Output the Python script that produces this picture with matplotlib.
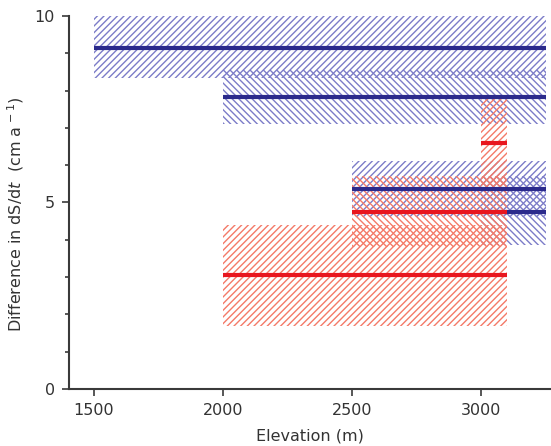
import matplotlib.pyplot as plt
import numpy as np

# blue series: elevation band start/end, value and uncertainty range
blue_start = [1500, 2000, 2500, 3000]
blue_end = [3250, 3250, 3250, 3250]
blue_val = [9.15, 7.83, 5.36, 4.75]
blue_lo = [8.35, 7.10, 4.60, 3.85]
blue_hi = [10.0, 8.55, 6.10, 5.70]
blue_hatch = ['/////', '\\\\\\\\\\', '/////', '\\\\\\\\\\']

# red series
red_start = [2000, 2500, 3000]
red_end = [3100, 3100, 3100]
red_val = [3.05, 4.75, 6.60]
red_lo = [1.70, 3.80, 5.40]
red_hi = [4.40, 5.70, 7.80]
red_hatch = ['/////', '\\\\\\\\\\', '/////']

x_ticks = [1500, 2000, 2500, 3000]
y_ticks = [0, 5, 10]

BLUE_LINE = '#2b2a8c'
BLUE_HATCH = '#7c7cc8'
RED_LINE = '#e8161e'
RED_HATCH = '#f47a68'
AXIS = '#3a3a3a'
TEXT = '#333333'

plt.rcParams['font.family'] = 'DejaVu Sans'
plt.rcParams['hatch.linewidth'] = 1.0

fig = plt.figure(figsize=(5.51, 4.46), dpi=100)
ax = fig.add_axes([0.125, 0.128, 0.875, 0.836])

# uncertainty bands
for s, e, lo, hi, h in zip(blue_start, blue_end, blue_lo, blue_hi, blue_hatch):
    ax.bar(s, hi - lo, width=e - s, bottom=lo, align='edge', fill=False,
           hatch=h, edgecolor=BLUE_HATCH, linewidth=0)
for s, e, lo, hi, h in zip(red_start, red_end, red_lo, red_hi, red_hatch):
    ax.bar(s, hi - lo, width=e - s, bottom=lo, align='edge', fill=False,
           hatch=h, edgecolor=RED_HATCH, linewidth=0)

# central values
for s, e, v in zip(blue_start, blue_end, blue_val):
    ax.plot([s, e], [v, v], color=BLUE_LINE, lw=3, solid_capstyle='butt')
for s, e, v in zip(red_start, red_end, red_val):
    ax.plot([s, e], [v, v], color=RED_LINE, lw=3, solid_capstyle='butt')

ax.set_xlim(1403, 3271)
ax.set_ylim(0, 10)
ax.set_xticks(x_ticks)
ax.set_yticks(y_ticks)
ax.set_yticks(np.arange(0, 11, 1), minor=True)

for side in ['top', 'right']:
    ax.spines[side].set_visible(False)
for side in ['left', 'bottom']:
    ax.spines[side].set_color(AXIS)
    ax.spines[side].set_linewidth(1.5)

ax.tick_params(axis='both', which='major', direction='out', length=5,
               width=1.2, color=AXIS, labelcolor=TEXT, labelsize=11.5, pad=5)
ax.tick_params(axis='y', which='minor', direction='out', length=3,
               width=1.2, color=AXIS)

ax.set_xlabel('Elevation (m)', fontsize=11.5, color=TEXT)
ax.xaxis.set_label_coords(0.5, -0.105)
ax.set_ylabel(r'Difference in dS/d$t$  (cm a$^{\,-1}$)', fontsize=11.5,
              color=TEXT)
ax.yaxis.set_label_coords(-0.089, 0.47)

fig.savefig('out.png', dpi=100)
